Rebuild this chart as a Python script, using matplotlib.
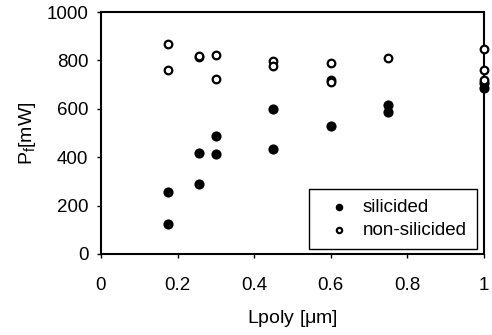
import matplotlib
matplotlib.use('Agg')
import matplotlib.pyplot as plt

plt.rcParams['font.family'] = ['Liberation Sans', 'DejaVu Sans']
plt.rcParams['mathtext.fontset'] = 'custom'
plt.rcParams['mathtext.rm'] = 'Liberation Sans'
plt.rcParams['mathtext.it'] = 'Liberation Sans'

# data
sil_x = [0.175, 0.175, 0.255, 0.255, 0.30, 0.30, 0.45, 0.45, 0.60, 0.75, 0.75, 1.0, 1.0]
sil_y = [258, 124, 418, 289, 488, 412, 600, 432, 530, 615, 585, 705, 688]

non_x = [0.175, 0.175, 0.255, 0.255, 0.30, 0.30, 0.45, 0.45, 0.60, 0.60, 0.60, 0.75, 1.0, 1.0, 1.0]
non_y = [868, 760, 815, 818, 822, 722, 798, 778, 788, 718, 712, 812, 848, 760, 718]

xticks = [0, 0.2, 0.4, 0.6, 0.8, 1]
xticklabels = ['0', '0.2', '0.4', '0.6', '0.8', '1']
yticks = [0, 200, 400, 600, 800, 1000]

fig = plt.figure(figsize=(4.92, 3.35), dpi=100)
ax = fig.add_axes([0.205, 0.242, 0.779, 0.722])

ax.scatter(sil_x, sil_y, s=40, color='black', marker='o', label='silicided',
           zorder=3, clip_on=False)
ax.scatter(non_x, non_y, s=30, facecolor='white', edgecolor='black',
           linewidth=1.6, marker='o', label='non-silicided', zorder=3, clip_on=False)

ax.set_xlim(0, 1)
ax.set_ylim(0, 1000)
ax.set_xticks(xticks)
ax.set_xticklabels(xticklabels)
ax.set_yticks(yticks)

for s in ax.spines.values():
    s.set_linewidth(1.5)
    s.set_color('black')

ax.tick_params(axis='both', direction='out', length=3, width=1, labelsize=13.5)
ax.tick_params(axis='y', pad=6)
ax.tick_params(axis='x', pad=13.5)

ax.set_xlabel(r'Lpoly [$\mu$m]', fontsize=14, labelpad=10)
ax.set_ylabel(r'P$_\mathrm{f}$[mW]', fontsize=14, labelpad=6)

leg = ax.legend(loc='lower right', bbox_to_anchor=(0.982, 0.02), fontsize=13.5,
                frameon=True, fancybox=False, edgecolor='black', framealpha=1,
                handletextpad=0.3, borderpad=0.55, labelspacing=0.3,
                handlelength=2.0, markerscale=0.7, borderaxespad=0)
leg.get_frame().set_linewidth(1.0)

fig.savefig('out.png', dpi=100)
